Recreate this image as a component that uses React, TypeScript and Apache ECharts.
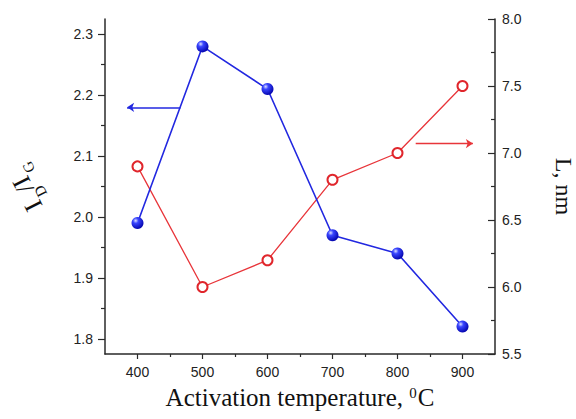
import React, { useEffect, useRef } from "react";
import * as echarts from "echarts";

const temperatures = [400, 500, 600, 700, 800, 900];
const idIgValues = [1.99, 2.28, 2.21, 1.97, 1.94, 1.82];
const crystalliteL = [6.9, 6.0, 6.2, 6.8, 7.0, 7.5];

const xTickLabels = [400, 500, 600, 700, 800, 900];
const xMinorTicks = [450, 550, 650, 750, 850];
const leftTickLabels = [1.8, 1.9, 2.0, 2.1, 2.2, 2.3];
const leftMinorTicks = [1.85, 1.95, 2.05, 2.15, 2.25];

const blueArrow = [[466, 2.18], [384, 2.18]];
const redArrow = [[828, 7.07], [916, 7.07]];

const AXIS_COLOR = "#2a2a2a";
const LABEL_FONT = "'Liberation Sans', Arial, sans-serif";
const TITLE_FONT = "'Liberation Serif', 'Times New Roman', serif";

export default function App() {
  const ref = useRef<HTMLDivElement>(null);

  useEffect(() => {
    document.body.style.margin = "0";
    const chart = echarts.init(ref.current!, null, { renderer: "svg" });

    const labelStyle = {
      color: "#222",
      fontFamily: LABEL_FONT,
      fontSize: 14,
    };

    const sphere = new echarts.graphic.RadialGradient(0.35, 0.3, 0.75, [
      { offset: 0, color: "#dde0ff" },
      { offset: 0.3, color: "#3a46ff" },
      { offset: 1, color: "#0000a8" },
    ]);

    const mainTxt = (text: string, x: number) => ({
      type: "text",
      x,
      y: 0,
      style: {
        text,
        fontFamily: TITLE_FONT,
        fontSize: 26,
        fill: "#111",
        align: "left",
        verticalAlign: "middle",
      },
    });
    const subTxt = (text: string, x: number) => ({
      type: "text",
      x,
      y: 13,
      style: {
        text,
        fontFamily: TITLE_FONT,
        fontSize: 15,
        fill: "#111",
        align: "left",
        verticalAlign: "middle",
      },
    });

    chart.setOption({
      animation: false,
      backgroundColor: "#ffffff",
      grid: {
        left: 105,
        right: 81,
        top: 19,
        bottom: 65,
        containLabel: false,
        outerBoundsMode: "none",
      },
      graphic: [
        {
          type: "group",
          x: 25,
          y: 189,
          rotation: 90,
          children: [
            mainTxt("I", -23),
            subTxt("D", -14.3),
            mainTxt("/I", -3.5),
            subTxt("G", 12.4),
          ],
        },
      ],
      xAxis: [
        {
          type: "value",
          min: 350,
          max: 950,
          name: "{t|Activation temperature, }{sup|0}{t|C}",
          nameLocation: "middle",
          nameGap: 31,
          nameTextStyle: {
            rich: {
              t: { fontFamily: TITLE_FONT, fontSize: 25, color: "#111" },
              sup: {
                fontFamily: TITLE_FONT,
                fontSize: 15,
                color: "#111",
                verticalAlign: "top",
                padding: [0, 1, 9, 0],
              },
            },
          },
          axisLine: { show: true, onZero: false, lineStyle: { color: AXIS_COLOR, width: 1.5 } },
          axisTick: {
            show: true,
            customValues: xTickLabels,
            length: 5,
            lineStyle: { color: AXIS_COLOR, width: 1.2 },
          },
          axisLabel: {
            ...labelStyle,
            customValues: xTickLabels,
            margin: 11,
          },
          splitLine: { show: false },
        },
        {
          type: "value",
          position: "bottom",
          min: 350,
          max: 950,
          axisLine: { show: false },
          axisTick: {
            show: true,
            customValues: xMinorTicks,
            length: 3,
            lineStyle: { color: AXIS_COLOR, width: 1.2 },
          },
          axisLabel: { show: false },
          splitLine: { show: false },
        },
      ],
      yAxis: [
        {
          type: "value",
          position: "left",
          min: 1.775,
          max: 2.325,
          axisLine: { show: true, onZero: false, lineStyle: { color: AXIS_COLOR, width: 1.5 } },
          axisTick: {
            show: true,
            customValues: leftTickLabels,
            length: 7,
            lineStyle: { color: AXIS_COLOR, width: 1.2 },
          },
          axisLabel: {
            ...labelStyle,
            customValues: leftTickLabels,
            margin: 12,
            formatter: (v: number) => v.toFixed(1),
          },
          splitLine: { show: false },
        },
        {
          type: "value",
          position: "left",
          min: 1.775,
          max: 2.325,
          axisLine: { show: false },
          axisTick: {
            show: true,
            customValues: leftMinorTicks,
            length: 4,
            lineStyle: { color: AXIS_COLOR, width: 1.2 },
          },
          axisLabel: { show: false },
          splitLine: { show: false },
        },
        {
          type: "value",
          position: "right",
          min: 5.5,
          max: 8.0,
          interval: 0.5,
          name: "L, nm",
          nameLocation: "middle",
          nameGap: 57,
          nameRotate: -90,
          nameTextStyle: { fontFamily: TITLE_FONT, fontSize: 24, color: "#111" },
          axisLine: { show: true, onZero: false, lineStyle: { color: AXIS_COLOR, width: 1.5 } },
          axisTick: {
            show: true,
            inside: true,
            length: 7,
            lineStyle: { color: AXIS_COLOR, width: 1.2 },
          },
          minorTick: {
            show: true,
            splitNumber: 2,
            length: 4,
            lineStyle: { color: AXIS_COLOR, width: 1.2 },
          },
          axisLabel: {
            ...labelStyle,
            margin: 7,
            formatter: (v: number) => v.toFixed(1),
          },
          splitLine: { show: false },
          minorSplitLine: { show: false },
        },
      ],
      series: [
        {
          name: "L",
          type: "line",
          yAxisIndex: 2,
          data: temperatures.map((t, i) => [t, crystalliteL[i]]),
          symbol: "circle",
          symbolSize: 10,
          lineStyle: { color: "#e8353a", width: 1.3 },
          itemStyle: { color: "#ffffff", borderColor: "#e0262c", borderWidth: 2 },
          z: 2,
          markLine: {
            silent: true,
            symbol: ["none", "arrow"],
            symbolSize: 7,
            label: { show: false },
            lineStyle: { color: "#e8353a", width: 1.3, type: "solid" },
            data: [
              [
                { coord: redArrow[0] },
                { coord: redArrow[1] },
              ],
            ],
          },
        },
        {
          name: "ID/IG",
          type: "line",
          yAxisIndex: 0,
          data: temperatures.map((t, i) => [t, idIgValues[i]]),
          symbol: "circle",
          symbolSize: 12,
          lineStyle: { color: "#2228e0", width: 1.6 },
          itemStyle: { color: sphere },
          z: 3,
          markLine: {
            silent: true,
            symbol: ["none", "arrow"],
            symbolSize: 7,
            label: { show: false },
            lineStyle: { color: "#2228e0", width: 1.6, type: "solid" },
            data: [
              [
                { coord: blueArrow[0] },
                { coord: blueArrow[1] },
              ],
            ],
          },
        },
      ],
    });

    return () => chart.dispose();
  }, []);

  return <div ref={ref} style={{ width: 576, height: 419 }} />;
}
